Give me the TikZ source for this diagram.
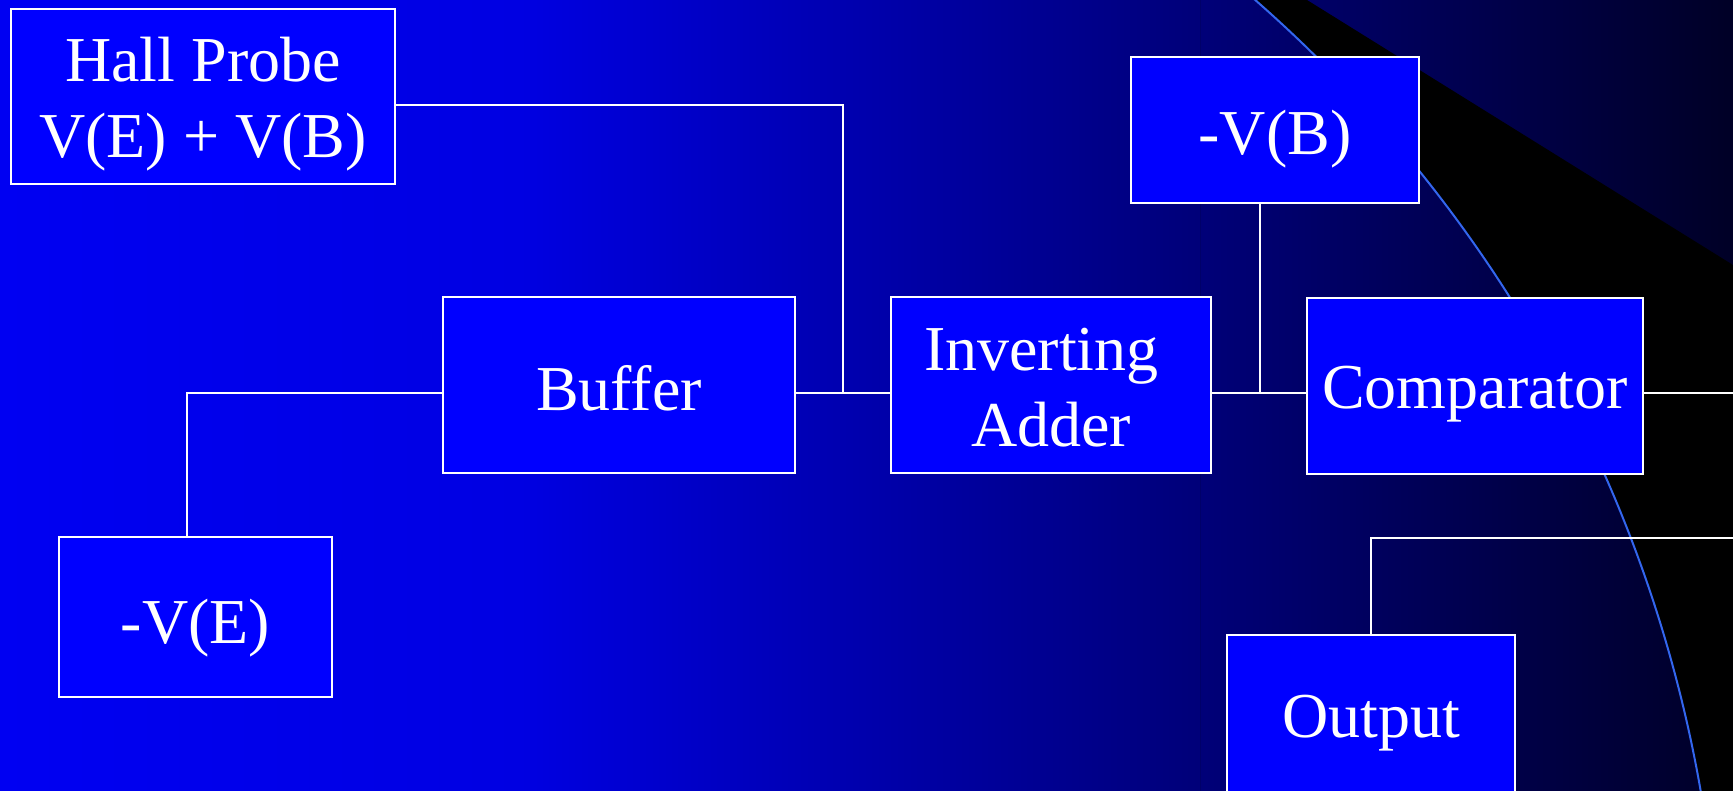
\documentclass[tikz,border=0pt]{standalone}
\usepackage{fontspec}
\setmainfont{Liberation Serif}
\definecolor{bgA}{RGB}{0,0,242}
\definecolor{bgB}{RGB}{0,0,226}
\definecolor{bgC}{RGB}{0,0,38}
\definecolor{boxblue}{RGB}{0,0,255}
\definecolor{arcblue}{RGB}{51,102,238}
\pgfdeclarehorizontalshading{bgshade}{100bp}{color(0bp)=(bgA); color(25bp)=(bgA); color(40bp)=(bgB); color(75bp)=(bgC); color(100bp)=(bgC)}
\tikzset{
  blockbox/.style={draw=white, line width=1pt, fill=boxblue, inner sep=0pt, text=white,
    font=\fontsize{32pt}{38pt}\selectfont},
  wire/.style={draw=white, line width=1pt},
  arcline/.style={draw=arcblue, line width=1pt},
}
\newcommand{\twolines}[3]{\raisebox{0pt}[0pt][#1]{\begin{tabular}[t]{@{}c@{}}#2\\#3\end{tabular}}}
\begin{document}
\begin{tikzpicture}[x=0.5pt,y=-0.5pt]
\useasboundingbox (0,0) rectangle (1733,791);
\clip (0,0) rectangle (1733,791);
\fill[shading=bgshade] (0,0) rectangle (1733,791);
\begin{scope}
  \clip (1200,0) -- (1307,0) -- (1733,265) -- (1733,791) -- (1200,791) -- cycle;
  \fill[black, even odd rule] (1200,-10) rectangle (1740,800) (356,1027) circle[radius=1365];
\end{scope}
\draw[arcline] (356,1027) circle[radius=1365];

\node[blockbox, minimum width=192pt, minimum height=87.5pt] (hall) at (203,96.5) {\twolines{15pt}{Hall Probe}{V(E) + V(B)}};
\node[blockbox, minimum width=176pt, minimum height=88pt, text height=25pt, text depth=0pt] (buffer) at (619,385) {Buffer};
\node[blockbox, minimum width=160pt, minimum height=88pt] (adder) at (1051,385) {\twolines{15pt}{Inverting\kern0.3em}{Adder}};
\node[blockbox, minimum width=144pt, minimum height=73pt, text height=25pt, text depth=0pt] (vb) at (1275,130) {-V(B)};
\node[blockbox, minimum width=168pt, minimum height=88pt, text height=23pt, text depth=0pt] (comp) at (1475,385.5) {Comparator};
\node[blockbox, minimum width=136.5pt, minimum height=80pt, text height=26pt, text depth=0pt] (ve) at (195.5,617) {-V(E)};
\node[blockbox, minimum width=144.25pt, minimum height=84pt, text height=18pt, text depth=0pt] (out) at (1371,719) {Output};

\coordinate (j1) at (843,393);
\coordinate (j0) at (187,393);
\coordinate (j2) at (1259.5,393);
\coordinate (e1) at (1740,393);
\coordinate (e2) at (1740,538);
\draw[wire] ([yshift=-4.25pt]hall.east) -| (j1);
\draw[wire] (buffer.east |- j1) -- (adder.west |- j1);
\draw[wire] (ve.north -| j0) -- (j0) -- (buffer.west |- j0);
\draw[wire] (vb.south -| j2) -- (j2);
\draw[wire] (adder.east |- j1) -- (comp.west |- j1);
\draw[wire] (comp.east |- j1) -- (e1);
\draw[wire] (e2) -| (out.north);
\end{tikzpicture}
\end{document}
